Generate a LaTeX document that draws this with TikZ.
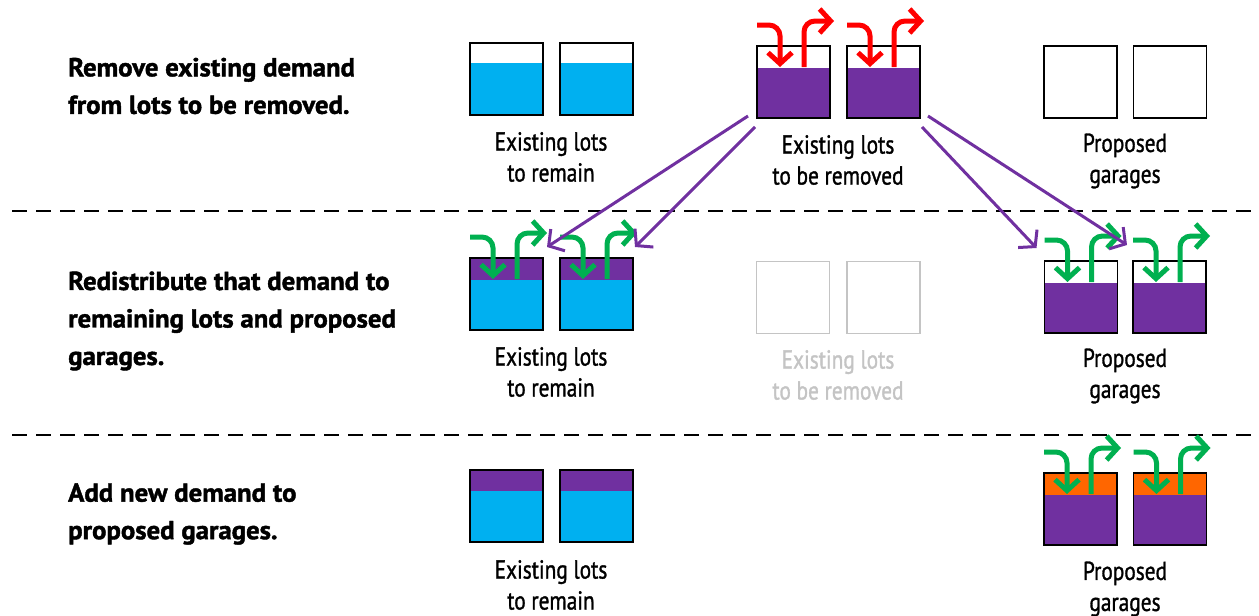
\documentclass[tikz,border=0pt]{standalone}
\usepackage{fontspec}
\setmainfont{PT Sans}[FakeStretch=0.82, FakeBold=1.2, BoldFeatures={FakeStretch=1.03, FakeBold=1.6}]
\usetikzlibrary{arrows.meta}
\definecolor{lotblue}{HTML}{00B0F0}
\definecolor{lotpurple}{HTML}{7030A0}
\definecolor{neworange}{HTML}{FF6600}
\definecolor{flowgreen}{HTML}{00B050}
\definecolor{flowred}{HTML}{FF0000}
\definecolor{faded}{RGB}{196,196,196}
\tikzset{
  lot/.style={draw=black, line width=1.4pt, minimum width=73pt, minimum height=72pt,
    inner sep=0pt, outer sep=0pt},
  ghostlot/.style={lot, draw=faded},
  fillto/.style n args={3}{path picture={
    \fill[#2] (path picture bounding box.north west) rectangle (path picture bounding box.south east);
    \fill[#1] (path picture bounding box.north west) rectangle ([yshift=-#3]path picture bounding box.north east);}},
  caption/.style={font=\fontsize{26}{31}\selectfont, align=center, inner sep=0pt},
  steptext/.style={font=\bfseries\fontsize{26}{37.5}\selectfont, align=left, inner sep=0pt, anchor=west},
  flowline/.style={line width=5pt, rounded corners=11pt, -{Straight Barb[length=11pt,width=24pt]}},
  move/.style={draw=lotpurple, line width=3pt, -{Straight Barb[length=11pt,width=26pt]}},
  divider/.style={line width=2.2pt, dash pattern=on 15pt off 9pt},
  pics/flow/.style={code={
    \draw[flowline,#1] (0,-21) -- (23,-21) -- (23,21);
    \draw[flowline,#1] (47,21) -- (47,-25) -- (77,-25);
  }},
}
\begin{document}
\begin{tikzpicture}[x=1pt,y=-1pt]
\useasboundingbox (0,0) rectangle (1259,616);

% step descriptions
\node[steptext] (s1) at (68,86) {Remove existing demand\\from lots to be removed.};
\node[steptext] (s2) at (68,321) {Redistribute that demand to\\remaining lots and proposed\\garages.};
\node[steptext] (s3) at (68,514) {Add new demand to\\proposed garages.};

% dividers
\coordinate (l1) at (12,211); \coordinate (r1) at (1259,211);
\coordinate (l2) at (12,435); \coordinate (r2) at (1259,435);
\draw[divider] (l1) -- (r1);
\draw[divider] (l2) -- (r2);

% row 1
\node[lot, fillto={white}{lotblue}{20pt}] (a1) at (506.5,79) {};
\node[lot, fillto={white}{lotblue}{20pt}] (a2) at (596.5,79) {};
\node[lot, fillto={white}{lotpurple}{22pt}] (b1) at (793.5,82) {};
\node[lot, fillto={white}{lotpurple}{22pt}] (b2) at (883.5,82) {};
\node[lot] (c1) at (1080.5,82) {};
\node[lot] (c2) at (1170,82) {};
\node[caption] (ta) at (551,157) {Existing lots\\to remain};
\node[caption] (tb) at (838,160) {Existing lots\\to be removed};
\node[caption] (tc) at (1125,161) {Proposed\\garages};
\pic at (b1.north west) {flow=flowred};
\pic at (b2.north west) {flow=flowred};

% row 2
\node[lot, fillto={lotpurple}{lotblue}{22pt}] (d1) at (506.5,294) {};
\node[lot, fillto={lotpurple}{lotblue}{22pt}] (d2) at (596.5,294) {};
\node[ghostlot] (e1) at (793,297.5) {};
\node[ghostlot] (e2) at (883.5,297.5) {};
\node[lot, fillto={white}{lotpurple}{22pt}] (f1) at (1081,297) {};
\node[lot, fillto={white}{lotpurple}{22pt}] (f2) at (1169.5,297) {};
\node[caption] (td) at (551,372) {Existing lots\\to remain};
\node[caption, text=faded] (te) at (838,375) {Existing lots\\to be removed};
\node[caption] (tf) at (1125,376) {Proposed\\garages};
\pic at (d1.north west) {flow=flowgreen};
\pic at (d2.north west) {flow=flowgreen};
\pic at (f1.north west) {flow=flowgreen};
\pic at (f2.north west) {flow=flowgreen};

% row 3
\node[lot, fillto={lotpurple}{lotblue}{21pt}] (g1) at (506.5,506) {};
\node[lot, fillto={lotpurple}{lotblue}{21pt}] (g2) at (596.5,506) {};
\node[lot, fillto={neworange}{lotpurple}{22pt}] (h1) at (1080.5,509) {};
\node[lot, fillto={neworange}{lotpurple}{22pt}] (h2) at (1170,509) {};
\node[caption] (tg) at (551,585) {Existing lots\\to remain};
\node[caption] (th) at (1125,589) {Proposed\\garages};
\pic at (h1.north west) {flow=flowgreen};
\pic at (h2.north west) {flow=flowgreen};

% redistribution of removed demand
\coordinate (p1) at ([shift={(-9,-2)}]b1.south west);
\coordinate (p2) at ([shift={(-2,9)}]b1.south west);
\coordinate (p3) at ([shift={(2,9)}]b2.south east);
\coordinate (p4) at ([shift={(8,-2)}]b2.south east);
\coordinate (q1) at ([shift={(4,-11)}]d1.north east);
\coordinate (q2) at ([shift={(2,-11)}]d2.north east);
\coordinate (q3) at ([shift={(-8,-13)}]f1.north west);
\coordinate (q4) at ([shift={(-6,-16)}]f2.north west);
\draw[move] (p1) -- (q1);
\draw[move] (p2) -- (q2);
\draw[move] (p3) -- (q3);
\draw[move] (p4) -- (q4);
\end{tikzpicture}
\end{document}
